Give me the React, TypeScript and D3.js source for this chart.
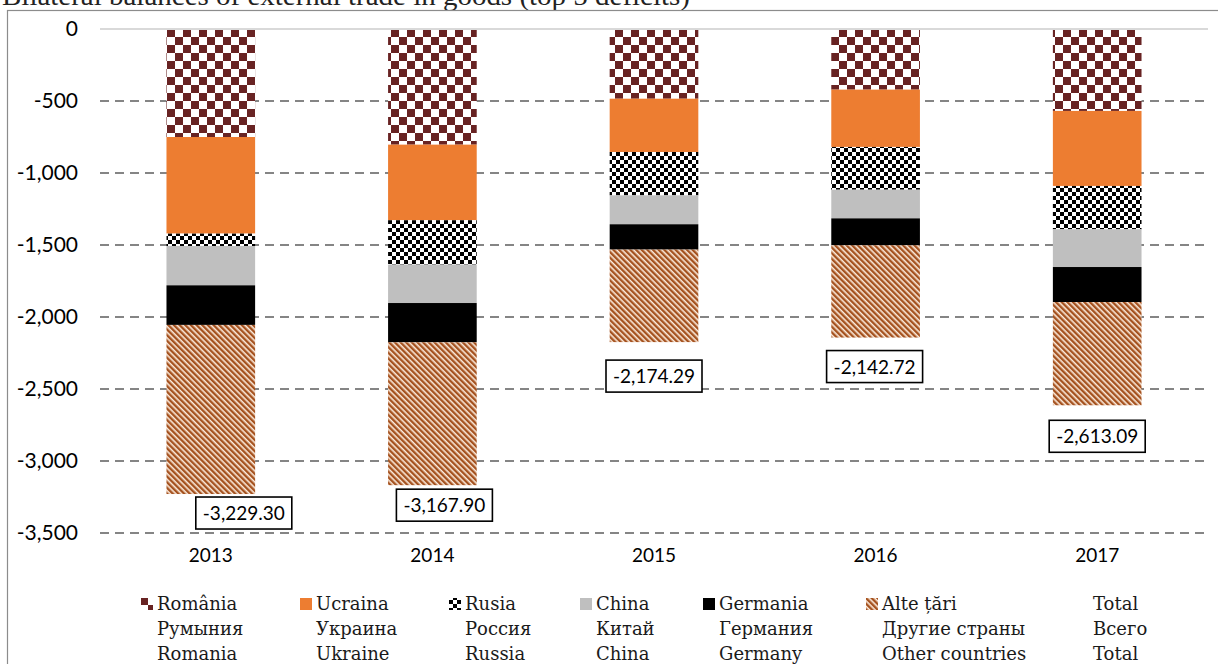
import React, { useEffect, useRef } from "react";
import * as d3 from "d3";

// values in USD mln
const years = ["2013", "2014", "2015", "2016", "2017"];
const romania = [-750, -803, -484, -421, -569];
const ukraine = [-671, -525, -370, -398, -521];
const russia = [-86, -308, -301, -297, -301];
const china = [-273, -267, -201, -199, -262];
const germany = [-275, -273, -176, -187, -243];
const others = [-1174.3, -991.9, -642.3, -640.7, -717.1];
const totals = [-3229.3, -3167.9, -2174.29, -2142.72, -2613.09];
const yTicks = [0, -500, -1000, -1500, -2000, -2500, -3000, -3500];

const seriesKeys = ["romania", "ukraine", "russia", "china", "germany", "others"];
const namesRo = ["România", "Ucraina", "Rusia", "China", "Germania", "Alte țări", "Total"];
const namesRu = ["Румыния", "Украина", "Россия", "Китай", "Германия", "Другие страны", "Всего"];
const namesEn = ["Romania", "Ukraine", "Russia", "China", "Germany", "Other countries", "Total"];

const W = 1218;
const H = 664;

// manual label placement, like the original workbook
const labelDx = [33, 12, 0, -1, 0];
const labelDy = [19, 20, 34, 29, 31];
const legendX = [141, 300, 449, 580, 703, 866, 1093];

const fills: Record<string, string> = {
  romania: "url(#pRomania)",
  ukraine: "#ED7D31",
  russia: "url(#pRussia)",
  china: "#BFBFBF",
  germany: "#000000",
  others: "url(#pOthers)",
};

const App = () => {
  const ref = useRef<SVGSVGElement>(null);

  useEffect(() => {
    const svg = d3.select(ref.current);
    svg.selectAll("*").remove();

    const fmt = d3.formatLocale({
      decimal: ".",
      thousands: ",",
      grouping: [3],
      currency: ["", ""],
      minus: "-",
    });
    const tickFmt = fmt.format(",");
    const totalFmt = fmt.format(",.2f");

    const rows = years.map((yr, i) => ({
      year: yr,
      romania: romania[i],
      ukraine: ukraine[i],
      russia: russia[i],
      china: china[i],
      germany: germany[i],
      others: others[i],
    }));

    const x = d3
      .scaleBand()
      .domain(years)
      .range([100, 1208])
      .paddingInner(0.6)
      .paddingOuter(0.3);
    const y = d3.scaleLinear().domain([-3500, 0]).range([533, 29]);

    const defs = svg.append("defs");

    const pRo = defs
      .append("pattern")
      .attr("id", "pRomania")
      .attr("patternUnits", "userSpaceOnUse")
      .attr("width", 16)
      .attr("height", 16)
      .attr("x", 167)
      .attr("y", 29);
    pRo.append("rect").attr("width", 16).attr("height", 16).attr("fill", "#fff");
    pRo.append("rect").attr("width", 8).attr("height", 8).attr("fill", "#682323");
    pRo.append("rect").attr("x", 8).attr("y", 8).attr("width", 8).attr("height", 8).attr("fill", "#682323");

    const pRu = defs
      .append("pattern")
      .attr("id", "pRussia")
      .attr("patternUnits", "userSpaceOnUse")
      .attr("width", 8)
      .attr("height", 8);
    pRu.append("rect").attr("width", 8).attr("height", 8).attr("fill", "#fff");
    pRu.append("rect").attr("width", 4).attr("height", 4).attr("fill", "#000");
    pRu.append("rect").attr("x", 4).attr("y", 4).attr("width", 4).attr("height", 4).attr("fill", "#000");

    const pOt = defs
      .append("pattern")
      .attr("id", "pOthers")
      .attr("patternUnits", "userSpaceOnUse")
      .attr("width", 4)
      .attr("height", 4)
      .attr("patternTransform", "rotate(-45)");
    pOt.append("rect").attr("width", 4).attr("height", 4).attr("fill", "#FBEADB");
    pOt.append("rect").attr("width", 2.4).attr("height", 4).attr("fill", "#A5521F");

    // title, cut by the page edge as in the source
    svg
      .append("text")
      .attr("x", 2)
      .attr("y", 5)
      .attr("font-family", "Liberation Serif")
      .attr("font-size", 27)
      .attr("textLength", 688)
      .attr("lengthAdjust", "spacingAndGlyphs")
      .attr("fill", "#222")
      .text("Bilateral balances of external trade in goods (top 5 deficits)");

    // frame
    svg
      .append("rect")
      .attr("x", 7.5)
      .attr("y", 10.5)
      .attr("width", W)
      .attr("height", H)
      .attr("fill", "none")
      .attr("stroke", "#8c8c8c")
      .attr("stroke-width", 1.2);

    // gridlines
    svg
      .append("g")
      .selectAll("line")
      .data(yTicks.filter((t) => t !== 0))
      .enter()
      .append("line")
      .attr("x1", 100)
      .attr("x2", 1208)
      .attr("y1", (d) => y(d))
      .attr("y2", (d) => y(d))
      .attr("stroke", "#858585")
      .attr("stroke-width", 2)
      .attr("stroke-dasharray", "9,6");

    // tick labels
    svg
      .append("g")
      .selectAll("text")
      .data(yTicks)
      .enter()
      .append("text")
      .attr("x", 78)
      .attr("y", (d) => y(d) + 7)
      .attr("text-anchor", "end")
      .attr("font-family", "Lato")
      .attr("font-size", 21)
      .attr("fill", "#000")
      .text((d) => tickFmt(d));

    // bars
    const stack = d3
      .stack<any>()
      .keys(seriesKeys)
      .offset(d3.stackOffsetDiverging);
    const layers = stack(rows);

    svg
      .append("g")
      .selectAll("g")
      .data(layers)
      .enter()
      .append("g")
      .attr("fill", (d) => fills[d.key])
      .selectAll("rect")
      .data((d) => d)
      .enter()
      .append("rect")
      .attr("x", (d) => x(d.data.year) as number)
      .attr("width", x.bandwidth())
      .attr("y", (d) => y(Math.max(d[0], d[1])))
      .attr("height", (d) => Math.abs(y(d[0]) - y(d[1])));

    // zero axis line
    svg
      .append("line")
      .attr("x1", 100)
      .attr("x2", 1208)
      .attr("y1", y(0))
      .attr("y2", y(0))
      .attr("stroke", "#d9d9d9")
      .attr("stroke-width", 2);

    // year labels
    svg
      .append("g")
      .selectAll("text")
      .data(years)
      .enter()
      .append("text")
      .attr("x", (d) => (x(d) as number) + x.bandwidth() / 2)
      .attr("y", 562)
      .attr("text-anchor", "middle")
      .attr("font-family", "Lato")
      .attr("font-size", 19)
      .attr("fill", "#000")
      .text((d) => d);

    // total labels in boxes
    const lab = svg
      .append("g")
      .selectAll("g")
      .data(totals)
      .enter()
      .append("g")
      .attr("transform", (d, i) => {
        const cx = (x(years[i]) as number) + x.bandwidth() / 2 + labelDx[i];
        const cy = y(d) + labelDy[i];
        return "translate(" + cx + "," + cy + ")";
      });
    lab
      .append("rect")
      .attr("x", -48)
      .attr("y", -16)
      .attr("width", 96)
      .attr("height", 32)
      .attr("fill", "#fff")
      .attr("stroke", "#000")
      .attr("stroke-width", 1.6);
    lab
      .append("text")
      .attr("text-anchor", "middle")
      .attr("y", 7)
      .attr("font-family", "Lato")
      .attr("font-size", 19)
      .attr("fill", "#000")
      .text((d) => totalFmt(d));

    // legend
    const leg = svg
      .append("g")
      .selectAll("g")
      .data(namesRo)
      .enter()
      .append("g")
      .attr("transform", (d, i) => "translate(" + legendX[i] + ",0)");
    leg
      .filter((d, i) => i < seriesKeys.length)
      .append("rect")
      .attr("x", 0)
      .attr("y", 598)
      .attr("width", 12)
      .attr("height", 12)
      .attr("fill", (d, i) => fills[seriesKeys[i]]);
    const legText = leg
      .append("text")
      .attr("x", (d, i) => (i < seriesKeys.length ? 16 : 0))
      .attr("font-family", "DejaVu Serif")
      .attr("font-size", 18)
      .attr("fill", "#1a1a1a");
    legText.append("tspan").attr("y", 610).text((d) => d);
    legText
      .append("tspan")
      .attr("x", (d, i) => (i < seriesKeys.length ? 16 : 0))
      .attr("y", 635)
      .text((d, i) => namesRu[i]);
    legText
      .append("tspan")
      .attr("x", (d, i) => (i < seriesKeys.length ? 16 : 0))
      .attr("y", 660)
      .text((d, i) => namesEn[i]);
  }, []);

  return (
    <svg
      ref={ref}
      width={W}
      height={H}
      style={{ position: "absolute", left: 0, top: 0, background: "#fff" }}
    />
  );
};

export default App;
